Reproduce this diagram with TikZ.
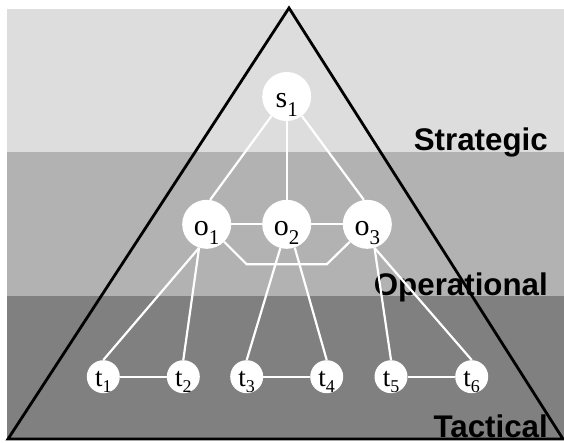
\documentclass[tikz,border=0pt]{standalone}
\usepackage{fontspec}
\setmainfont{Liberation Serif}
\newfontfamily\bandfont{Liberation Sans}
\newfontfamily\nodefont{Liberation Serif}
\definecolor{stratgray}{gray}{0.865}
\definecolor{opgray}{gray}{0.70}
\definecolor{tacgray}{gray}{0.50}
\newcommand\osub[1]{\raisebox{-9pt}{\fontsize{21}{21}\selectfont #1}}
\newcommand\tsub[1]{\raisebox{-6pt}{\fontsize{18}{18}\selectfont #1}}
\tikzset{
  bignode/.style={circle, fill=white, inner sep=0pt, minimum size=49pt, text height=22pt, text depth=0pt, font=\nodefont\fontsize{30}{30}\selectfont},
  smallnode/.style={circle, fill=white, inner sep=0pt, minimum size=33pt, text height=20pt, text depth=0pt, font=\nodefont\fontsize{27}{27}\selectfont},
  link/.style={white, line width=2.2pt},
  bandlabel/.style={anchor=base east, inner sep=0pt, font=\bandfont\bfseries\fontsize{31.3}{31.3}\selectfont}
}
\begin{document}
\begin{tikzpicture}[x=1pt, y=-1pt]
        \useasboundingbox (0,0) rectangle (564,442);
        % levels
        \fill [stratgray] (7,9) rectangle (564,152);
        \fill [opgray] (7,152) rectangle (564,296);
        \fill [tacgray] (7,296) rectangle (564,440);
        \draw [line width=2.8pt] (8,439) -- (289,8) -- (563,439) -- cycle;

        \node [bandlabel] (strat) at (548,150) {Strategic};
        \node [bandlabel] (oper) at (548,295) {Operational};
        \node [bandlabel] (tact) at (548,437) {Tactical};

        \node [bignode] (s1) at (286.7,96.5) {s\osub{1}};
        \node [bignode] (o1) at (206.7,224.3) {o\osub{1}};
        \node [bignode] (o2) at (286.7,224.3) {o\osub{2}};
        \node [bignode] (o3) at (367.3,224.3) {o\osub{3}};

        \node [smallnode] (t1) at (103.3,376.7) {t\tsub{1}};
        \node [smallnode] (t2) at (183.3,376.7) {t\tsub{2}};
        \node [smallnode] (t3) at (246.7,376.7) {t\tsub{3}};
        \node [smallnode] (t4) at (326.7,376.7) {t\tsub{4}};
        \node [smallnode] (t5) at (391.0,376.7) {t\tsub{5}};
        \node [smallnode] (t6) at (471.7,376.7) {t\tsub{6}};

        \coordinate (b1) at (246.7,264.3);
        \coordinate (b2) at (326.7,264.3);

        \draw [link] (s1.232) -- (o1.82); \draw [link] (s1.south) -- (o2.north); \draw [link] (s1.308) -- (o3.98);
        \draw [link] (o1) -- (o2); \draw [link] (o2) -- (o3);
        \draw [link] (o1.south east) -- (b1) -- (b2) -- (o3.south west);
        \draw [link] (o1.252) -- (t1.north); \draw [link] (o1.252) -- (t2.north);
        \draw [link] (o2.255) -- (t3.north); \draw [link] (o2.289) -- (t4.north);
        \draw [link] (o3.287) -- (t5.north); \draw [link] (o3.287) -- (t6.north);
        \draw [link] (t1) -- (t2); \draw [link] (t3) -- (t4); \draw [link] (t5) -- (t6);
    \end{tikzpicture}
\end{document}
